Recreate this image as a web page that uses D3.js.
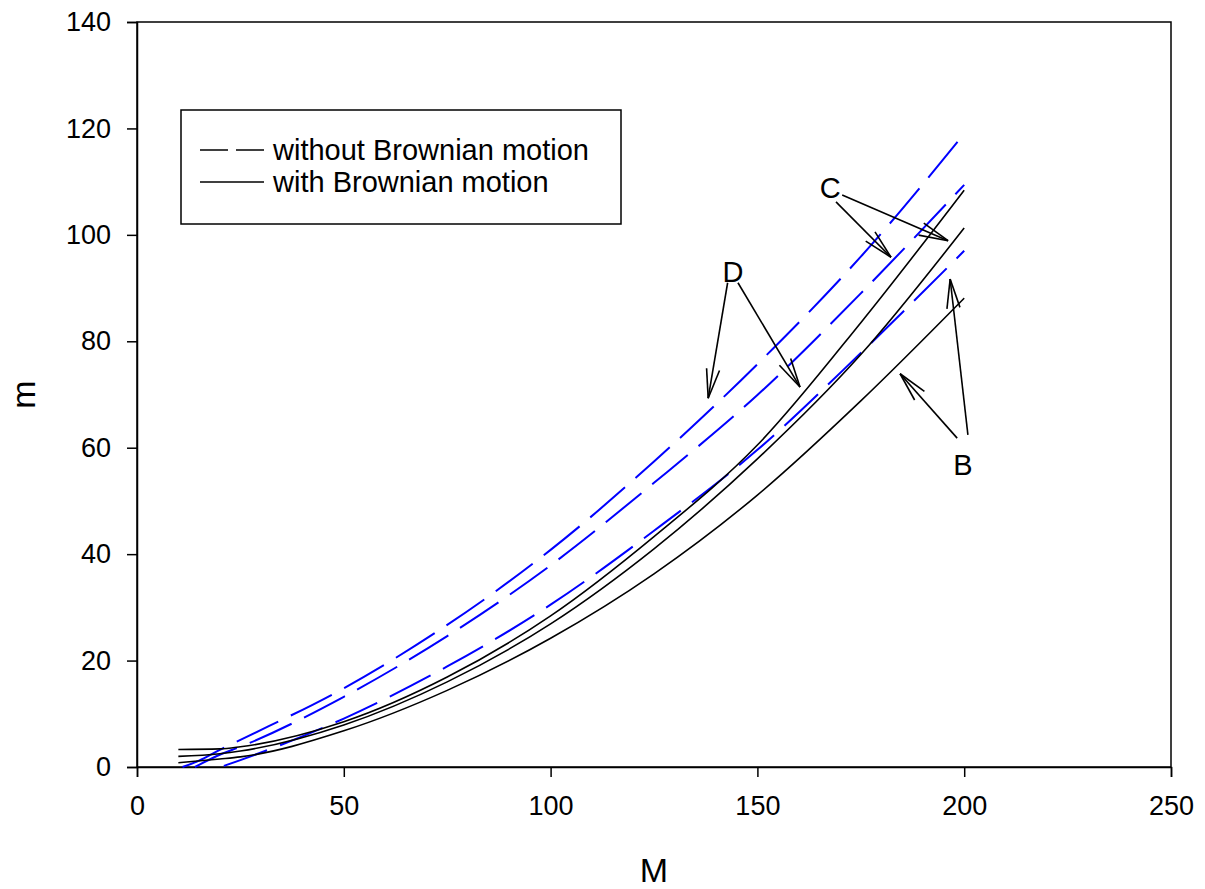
<!DOCTYPE html>
<html lang="en">
<head>
<meta charset="UTF-8" />
<title>m vs M</title>
<script src="https://cdn.jsdelivr.net/npm/d3@7"></script>
<style>
  body { margin: 0; background: #fff; }
  text { font-family: Arial, "Liberation Sans", sans-serif; }
</style>
</head>
<body>
<svg id="chart"></svg>
<script>
// x ticks / y ticks
const xTicks = [0, 50, 100, 150, 200, 250];
const yTicks = [0, 20, 40, 60, 80, 100, 120, 140];

// without Brownian motion (blue dashed)
const dashTop = [[11, 0], [15, 1.2], [20, 3.2], [25, 5.1], [50, 14.8], [75, 26.7], [100, 40.8], [125, 57.4], [150, 75.7], [175, 95.9], [200, 119]];
const dashMid = [[14, 0], [20, 2.3], [25, 3.8], [50, 13.2], [75, 24.6], [100, 37.9], [125, 53.4], [150, 69.9], [175, 89], [200, 109.4]];
const dashBot = [[21, 0.2], [25, 1.3], [50, 9.1], [75, 18.9], [100, 30.5], [125, 44.4], [150, 59.6], [175, 77.8], [200, 97]];

// with Brownian motion (black solid)
const solidTop = [[10, 3.3], [20, 3.4], [25, 3.8], [50, 8.5], [75, 16.9], [100, 28.4], [125, 43.3], [150, 60.5], [175, 83.5], [200, 108.4]];
const solidMid = [[10, 2], [20, 2.5], [25, 3], [50, 7.9], [75, 16], [100, 26.9], [125, 41], [150, 57.9], [175, 77.5], [200, 101.3]];
const solidBot = [[10, 0.8], [20, 1.5], [25, 1.9], [50, 6.8], [75, 14.4], [100, 24.2], [125, 36.3], [150, 51.1], [175, 68.8], [200, 88.1]];

// labels and arrows, in data units: [label, labelM, labelm, [[fromM, fromm, toM, tom], ...]]
const notes = [
  ["C", 167.6, 108.8, [[169, 106.2, 182.3, 95.8], [170.5, 107.5, 196.1, 98.9]]],
  ["D", 144.1, 93, [[142.8, 91, 138.1, 69.3], [145.3, 91, 160.3, 71.4]]],
  ["B", 199.7, 56.8, [[198.3, 61.8, 184.5, 73.9], [200.9, 62.4, 196.6, 91.7]]]
];

const W = 1205, H = 889;
const margin = { left: 137, top: 22, right: 34, bottom: 122 };

const svg = d3.select("#chart").attr("width", W).attr("height", H);

const x = d3.scaleLinear().domain([0, 250]).range([margin.left, W - margin.right]);
const y = d3.scaleLinear().domain([0, 140]).range([H - margin.bottom, margin.top]);

const line = d3.line()
  .x(d => x(d[0]))
  .y(d => y(d[1]))
  .curve(d3.curveMonotoneX);

// frame
svg.append("rect")
  .attr("x", x(0)).attr("y", y(140))
  .attr("width", x(250) - x(0)).attr("height", y(0) - y(140))
  .attr("fill", "none").attr("stroke", "black").attr("stroke-width", 1.5);

// axes
const xAxis = svg.append("g")
  .attr("transform", `translate(0,${y(0)})`)
  .call(d3.axisBottom(x).tickValues(xTicks).tickSize(10).tickPadding(19));
const yAxis = svg.append("g")
  .attr("transform", `translate(${x(0)},0)`)
  .call(d3.axisLeft(y).tickValues(yTicks).tickSize(10).tickPadding(16));

[xAxis, yAxis].forEach(g => {
  g.attr("font-size", null);
  g.selectAll("path").attr("stroke", "black").attr("stroke-width", 1.5);
  g.selectAll("line").attr("stroke", "black").attr("stroke-width", 1.5);
  g.selectAll("text")
    .attr("font-size", 27)
    .attr("fill", "black")
    .style("font-family", "Arial, 'Liberation Sans', sans-serif");
});

// axis titles
svg.append("text")
  .attr("x", (x(0) + x(250)) / 2).attr("y", 882)
  .attr("text-anchor", "middle").attr("font-size", 34)
  .text("M");
svg.append("text")
  .attr("transform", `translate(35,${(y(0) + y(140)) / 2}) rotate(-90)`)
  .attr("text-anchor", "middle").attr("font-size", 34)
  .text("m");

// curves
[dashTop, dashMid, dashBot].forEach(s => {
  svg.append("path")
    .attr("d", line(s))
    .attr("fill", "none")
    .attr("stroke", "#0000ff")
    .attr("stroke-width", 2)
    .attr("stroke-dasharray", "46,14");
});
[solidTop, solidMid, solidBot].forEach(s => {
  svg.append("path")
    .attr("d", line(s))
    .attr("fill", "none")
    .attr("stroke", "black")
    .attr("stroke-width", 1.6);
});

// annotations
const ann = svg.append("g");
notes.forEach(([lab, lm, lv, arrows]) => {
  ann.append("text")
    .attr("x", x(lm)).attr("y", y(lv))
    .attr("text-anchor", "middle").attr("dominant-baseline", "central")
    .attr("font-size", 29)
    .text(lab);
  arrows.forEach(([fm, fv, tm, tv]) => {
    const x1 = x(fm), y1 = y(fv), x2 = x(tm), y2 = y(tv);
    ann.append("line")
      .attr("x1", x1).attr("y1", y1).attr("x2", x2).attr("y2", y2)
      .attr("stroke", "black").attr("stroke-width", 1.6);
    const a = Math.atan2(y1 - y2, x1 - x2);
    const len = 30, spread = 0.22;
    [-spread, spread].forEach(s => {
      ann.append("line")
        .attr("x1", x2).attr("y1", y2)
        .attr("x2", x2 + len * Math.cos(a + s))
        .attr("y2", y2 + len * Math.sin(a + s))
        .attr("stroke", "black").attr("stroke-width", 1.6);
    });
  });
});

// legend
const leg = svg.append("g");
leg.append("rect")
  .attr("x", 181).attr("y", 110).attr("width", 440).attr("height", 114)
  .attr("fill", "white").attr("stroke", "black").attr("stroke-width", 1.5);
leg.append("line")
  .attr("x1", 200).attr("x2", 264).attr("y1", 150).attr("y2", 150)
  .attr("stroke", "black").attr("stroke-width", 1.5)
  .attr("stroke-dasharray", "28,8");
leg.append("line")
  .attr("x1", 200).attr("x2", 264).attr("y1", 182).attr("y2", 182)
  .attr("stroke", "black").attr("stroke-width", 1.5);
leg.append("text").attr("x", 273).attr("y", 150)
  .attr("dominant-baseline", "central").attr("font-size", 29)
  .text("without Brownian motion");
leg.append("text").attr("x", 273).attr("y", 182)
  .attr("dominant-baseline", "central").attr("font-size", 29)
  .text("with Brownian motion");
</script>
</body>
</html>
